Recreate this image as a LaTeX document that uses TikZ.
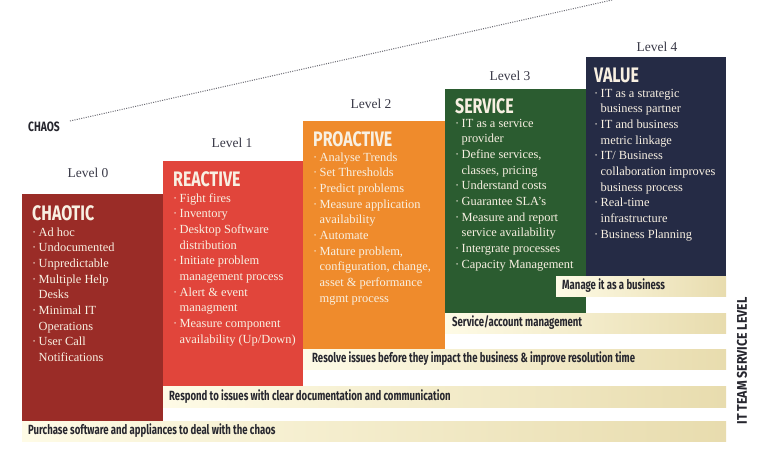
\documentclass[tikz,border=0pt]{standalone}
\usepackage{fontspec}
\setmainfont{Liberation Serif}
\newfontfamily\headfont[FakeStretch=0.76]{Fira Sans}
\newfontfamily\bandfont[FakeStretch=0.72]{Fira Sans}
\newfontfamily\axisfont[FakeStretch=0.88]{Fira Sans}
\definecolor{cChaotic}{HTML}{9A2C27}
\definecolor{cReactive}{HTML}{E1453B}
\definecolor{cProactive}{HTML}{EF8B2C}
\definecolor{cService}{HTML}{2B5C30}
\definecolor{cValue}{HTML}{252B45}
\definecolor{bandL}{HTML}{FEFBE6}
\definecolor{bandR}{HTML}{E8DCAE}
\definecolor{boxtext}{HTML}{F8F0E2}
\definecolor{darktext}{HTML}{26262E}
\definecolor{lvlgray}{HTML}{3A3A48}
\definecolor{dotgray}{HTML}{6A6A72}
\newcommand\bitem[1]{\hbox{\makebox[6.5pt][l]{·}#1}}
\newcommand\citem[1]{\hbox{\hspace*{6.5pt}#1}}
\newcommand\blist[1]{\vtop{\baselineskip=15.7pt\lineskiplimit=-50pt\lineskip=0pt\relax #1}}
\tikzset{
  heading/.style={font=\headfont\bfseries\fontsize{21}{21}\selectfont, text=boxtext, anchor=base west, inner sep=0pt},
  bullets/.style={font=\fontsize{12.4}{15.7}\selectfont, text=boxtext, anchor=base west, inner sep=0pt},
  lvl/.style={font=\fontsize{13.5}{14}\selectfont, text=lvlgray, inner sep=0pt},
  band/.style={left color=bandL, right color=bandR},
  bandtxt/.style={font=\bandfont\bfseries\fontsize{13.3}{14}\selectfont, text=darktext, anchor=west, inner sep=0pt},
  dotline/.style={draw=dotgray, line width=1pt, dash pattern=on 1pt off 1.3pt},
}
\begin{document}
\begin{tikzpicture}[x=1pt,y=-1pt]
\useasboundingbox[fill=white] (0,0) rectangle (768,448);

% dotted chaos line
\node[font=\headfont\bfseries\fontsize{13.5}{14}\selectfont, text=darktext, inner sep=0pt] (chaos) at (44,127) {CHAOS};
\coordinate (chaosA) at (70,121);
\coordinate (chaosB) at (612,0);
\draw[dotline] (chaosA) -- (chaosB);

% level boxes
\fill[cChaotic] (22,194) rectangle (163,421);
\fill[cReactive] (163,161) rectangle (303,386);
\fill[cProactive] (303,121) rectangle (445,349);
\fill[cService] (445,89) rectangle (586,313);
\fill[cValue] (586,57) rectangle (726,276);

% level labels
\node[lvl] (l0) at (88,173) {Level 0};
\node[lvl] (l1) at (232,143) {Level 1};
\node[lvl] (l2) at (371,104) {Level 2};
\node[lvl] (l3) at (510,76) {Level 3};
\node[lvl] (l4) at (657,47) {Level 4};

% headings
\node[heading] (h0) at (32,220) {CHAOTIC};
\node[heading] (h1) at (173,186) {REACTIVE};
\node[heading] (h2) at (313,146) {PROACTIVE};
\node[heading] (h3) at (455,113) {SERVICE};
\node[heading] (h4) at (594,82) {VALUE};

% bullet lists
\node[bullets] (t0) at (32,236) {\blist{%
\bitem{Ad hoc}
\bitem{Undocumented}
\bitem{Unpredictable}
\bitem{Multiple Help}
\citem{Desks}
\bitem{Minimal IT}
\citem{Operations}
\bitem{User Call}
\citem{Notifications}}};

\node[bullets] (t1) at (173,202) {\blist{%
\bitem{Fight fires}
\bitem{Inventory}
\bitem{Desktop Software}
\citem{distribution}
\bitem{Initiate problem}
\citem{management process}
\bitem{Alert \& event}
\citem{managment}
\bitem{Measure component}
\citem{availability (Up/Down)}}};

\node[bullets] (t2) at (313,161) {\blist{%
\bitem{Analyse Trends}
\bitem{Set Thresholds}
\bitem{Predict problems}
\bitem{Measure application}
\citem{availability}
\bitem{Automate}
\bitem{Mature problem,}
\citem{configuration, change,}
\citem{asset \& performance}
\citem{mgmt process}}};

\node[bullets] (t3) at (455,127) {\blist{%
\bitem{IT as a service}
\citem{provider}
\bitem{Define services,}
\citem{classes, pricing}
\bitem{Understand costs}
\bitem{Guarantee SLA's}
\bitem{Measure and report}
\citem{service availability}
\bitem{Intergrate processes}
\bitem{Capacity Management}}};

\node[bullets] (t4) at (594,97) {\blist{%
\bitem{IT as a strategic}
\citem{business partner}
\bitem{IT and business}
\citem{metric linkage}
\bitem{IT/ Business}
\citem{collaboration improves}
\citem{business process}
\bitem{Real-time}
\citem{infrastructure}
\bitem{Business Planning}}};

% service level bands
\shade[band] (556,276) rectangle (726,296);
\shade[band] (445,313) rectangle (726,333);
\shade[band] (303,349) rectangle (726,369);
\shade[band] (163,386) rectangle (726,407);
\shade[band] (22,421) rectangle (726,441);

\node[bandtxt] (b4) at (562,286) {Manage it as a business};
\node[bandtxt] (b3) at (452,323) {Service/account management};
\node[bandtxt] (b2) at (312,359) {Resolve issues before they impact the business \& improve resolution time};
\node[bandtxt] (b1) at (169,396.5) {Respond to issues with clear documentation and communication};
\node[bandtxt] (b0) at (28,431) {Purchase software and appliances to deal with the chaos};

% axis label
\node[font=\axisfont\bfseries\fontsize{14}{15}\selectfont, text=darktext, rotate=90, inner sep=0pt] (axis) at (742,361) {IT TEAM SERVICE LEVEL};
\end{tikzpicture}
\end{document}
